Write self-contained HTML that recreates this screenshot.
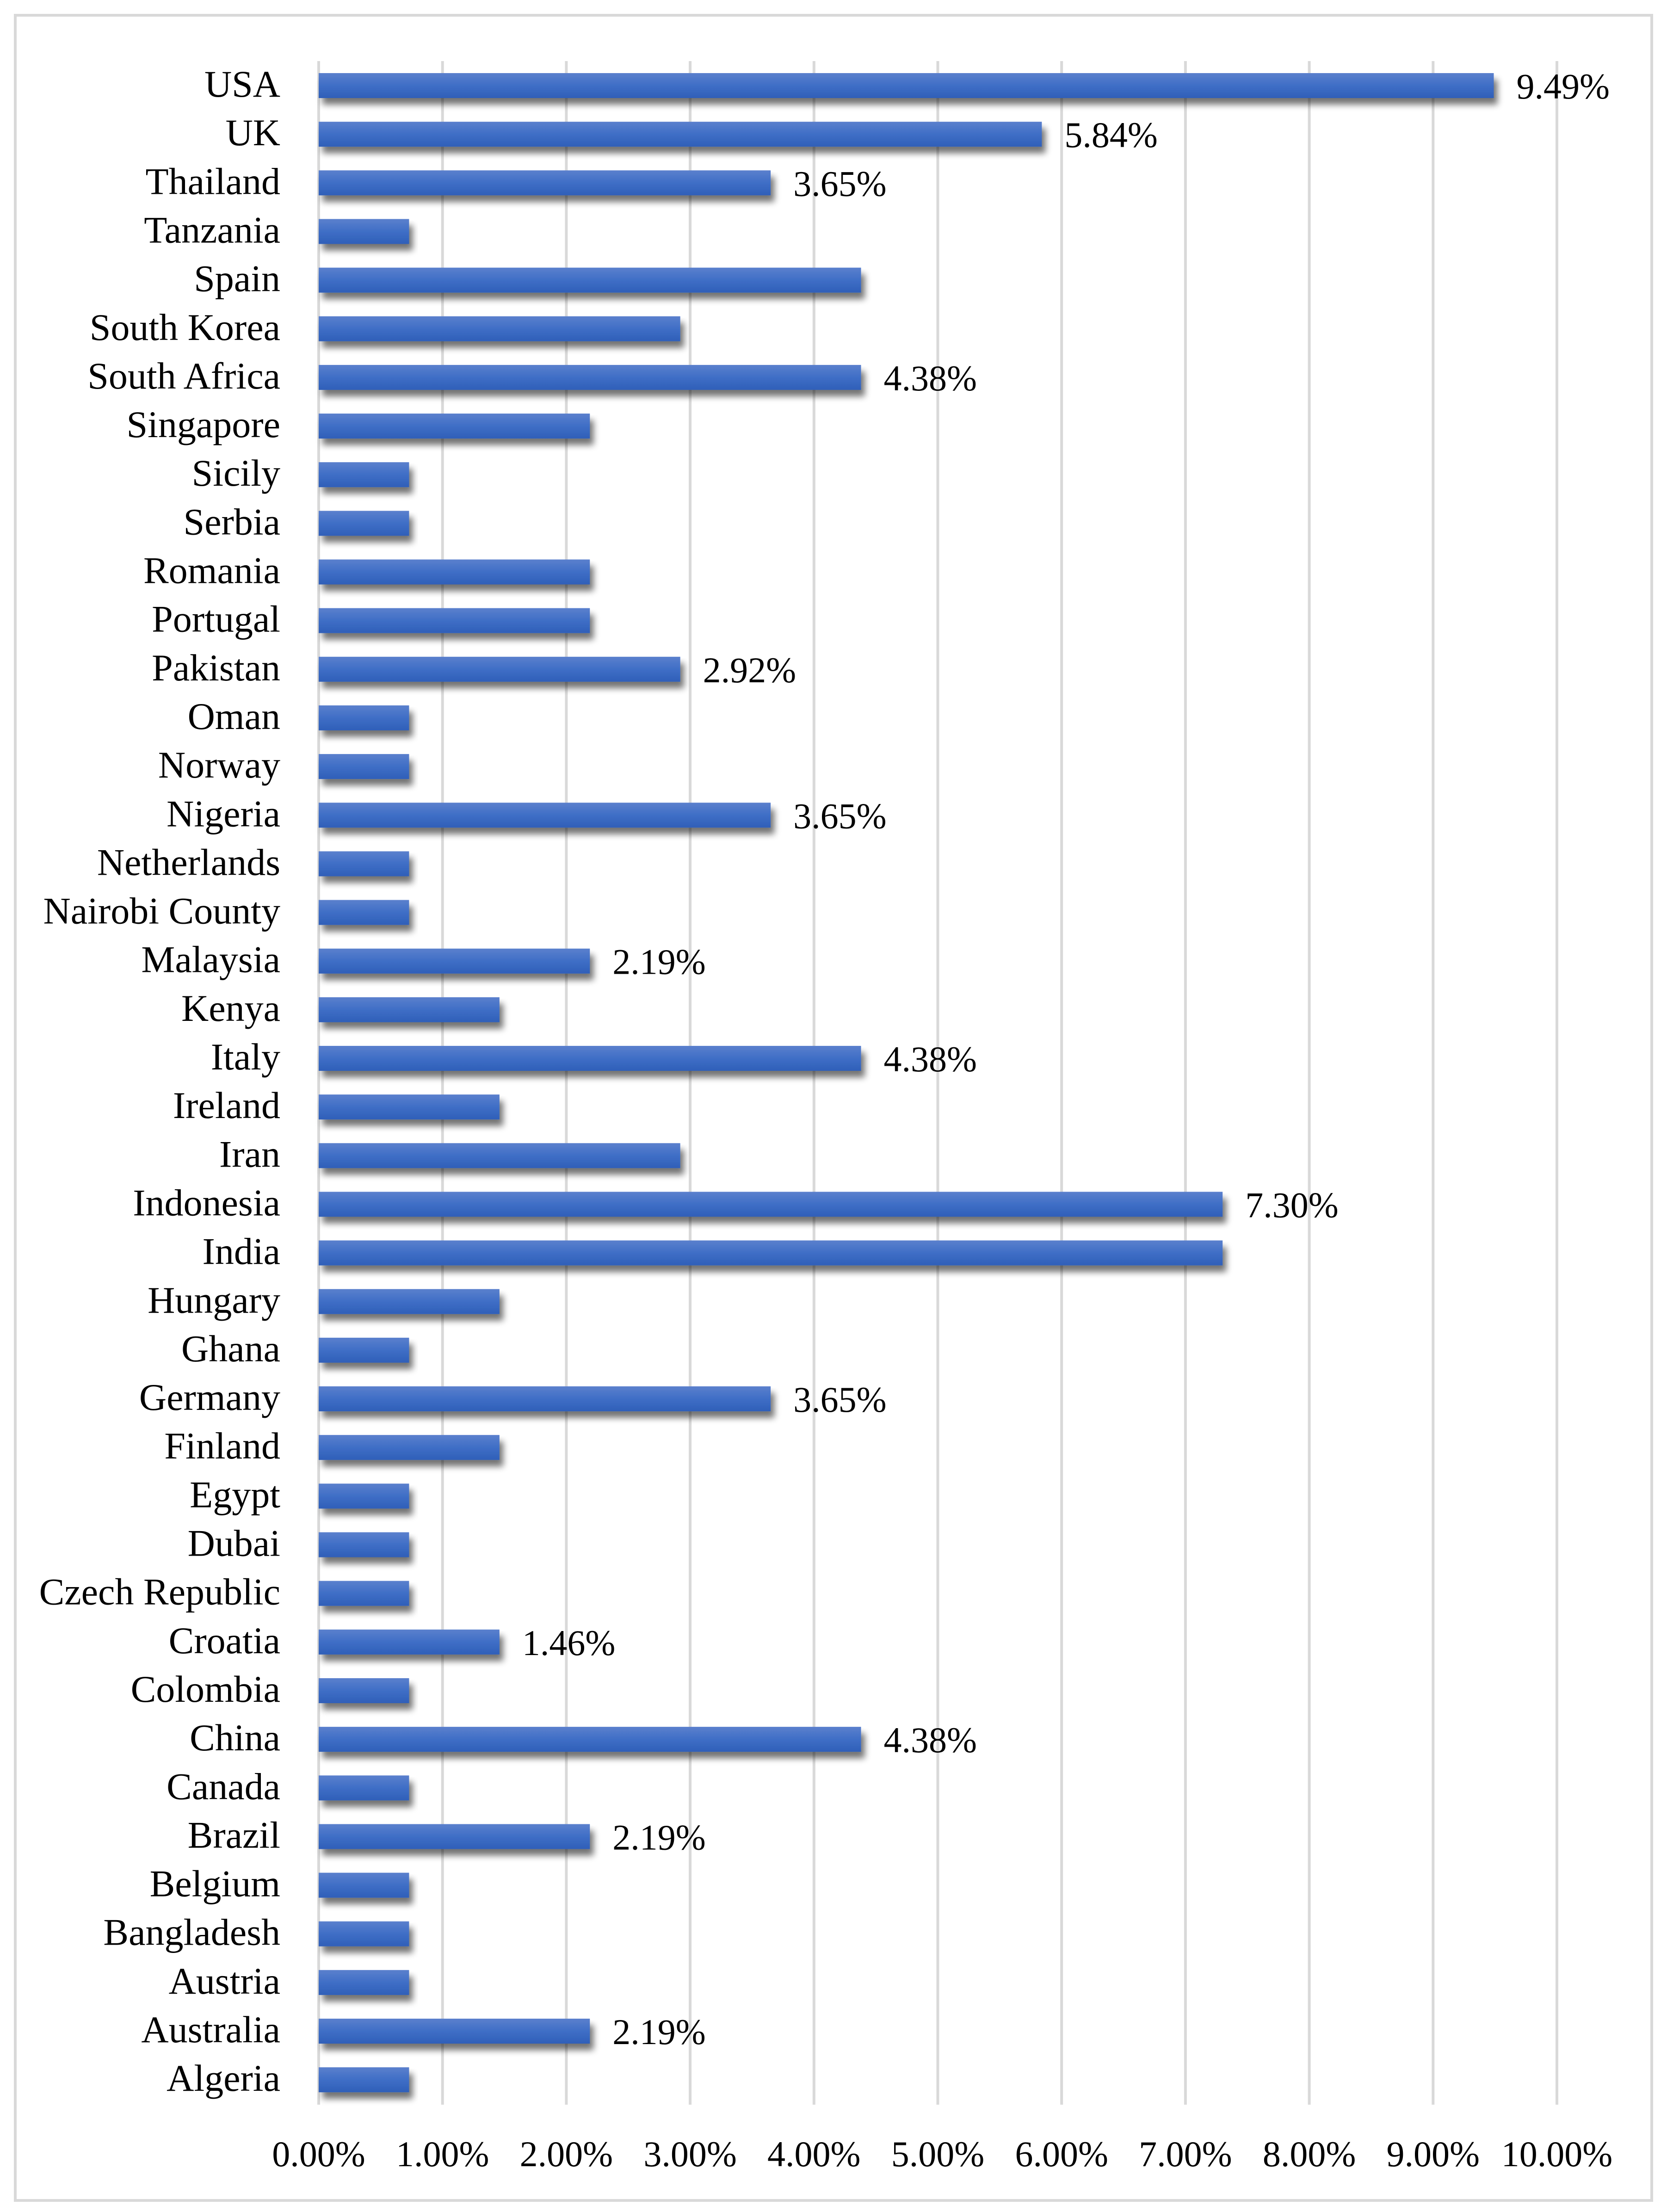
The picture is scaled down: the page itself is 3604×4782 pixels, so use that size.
<!DOCTYPE html>
<html><head><meta charset="utf-8"><style>
html,body{margin:0;padding:0;background:#fff}
svg{display:block}
text{font-family:"Liberation Serif",serif;fill:#000}
</style></head><body>
<svg id="chart" width="3604" height="4782" viewBox="0 0 3604 4782" xmlns="http://www.w3.org/2000/svg">
<defs>
<linearGradient id="barGrad" x1="0" y1="0" x2="0" y2="1">
<stop offset="0" stop-color="#5b80cd"/><stop offset="0.5" stop-color="#3f6ec6"/><stop offset="1" stop-color="#2f5fb8"/>
</linearGradient>
<filter id="shadow" x="-5%" y="-20%" width="115%" height="190%">
<feGaussianBlur in="SourceAlpha" stdDeviation="7"/>
<feOffset dx="8" dy="14" result="b"/>
<feComponentTransfer><feFuncA type="linear" slope="0.55"/></feComponentTransfer>
<feMerge><feMergeNode/><feMergeNode in="SourceGraphic"/></feMerge>
</filter>
</defs>
<rect x="33" y="33" width="3538" height="4724" fill="#fff" stroke="#d9d9d9" stroke-width="6"/>
<g id="grid"></g><g id="bars"></g><g id="labels"></g>
</svg>
<script>
const categories = ["USA","UK","Thailand","Tanzania","Spain","South Korea","South Africa","Singapore","Sicily","Serbia","Romania","Portugal","Pakistan","Oman","Norway","Nigeria","Netherlands","Nairobi County","Malaysia","Kenya","Italy","Ireland","Iran","Indonesia","India","Hungary","Ghana","Germany","Finland","Egypt","Dubai","Czech Republic","Croatia","Colombia","China","Canada","Brazil","Belgium","Bangladesh","Austria","Australia","Algeria"];
const values = [9.49,5.84,3.65,0.73,4.38,2.92,4.38,2.19,0.73,0.73,2.19,2.19,2.92,0.73,0.73,3.65,0.73,0.73,2.19,1.46,4.38,1.46,2.92,7.30,7.30,1.46,0.73,3.65,1.46,0.73,0.73,0.73,1.46,0.73,4.38,0.73,2.19,0.73,0.73,0.73,2.19,0.73];
const labeledCategories = ["USA","UK","Thailand","South Africa","Pakistan","Nigeria","Malaysia","Italy","Indonesia","Germany","Croatia","China","Brazil","Australia"];
const ticks = [0,1,2,3,4,5,6,7,8,9,10];
const tickLabels = ["0.00%","1.00%","2.00%","3.00%","4.00%","5.00%","6.00%","7.00%","8.00%","9.00%","10.00%"];

const NS="http://www.w3.org/2000/svg";
const x0=689, pxPer=267.7, yTop=185, step=105.15, barH=54;
const xs=v=>x0+v*pxPer;
const ys=i=>yTop+i*step;
function mk(tag,attrs,parent){const e=document.createElementNS(NS,tag);for(const k in attrs)e.setAttribute(k,attrs[k]);parent.appendChild(e);return e;}
const grid=document.getElementById('grid'),bars=document.getElementById('bars'),labels=document.getElementById('labels');
ticks.forEach((t,i)=>{
  const l=mk('line',{x1:xs(t),x2:xs(t),y1:132,y2:4550,stroke:'#d9d9d9','stroke-width':6},grid);
  
  
  const tx=mk('text',{x:xs(t),y:4683,'text-anchor':'middle','font-size':78},labels);
  tx.textContent=tickLabels[i];
  
  
});
categories.forEach((c,i)=>{
  const cy=ys(i);
  const r=mk('rect',{x:x0,y:cy-barH/2,width:xs(values[i])-x0,height:barH,fill:'url(#barGrad)',filter:'url(#shadow)'},bars);
  
  
  const t=mk('text',{x:606,y:cy+24,'text-anchor':'end','font-size':82},labels);
  t.textContent=c;
  
  
  if(labeledCategories.includes(c)){
    const v=mk('text',{x:xs(values[i])+49,y:cy+28,'font-size':78},labels);
    v.textContent=values[i].toFixed(2)+'%';
    
    
  }
});
</script>
</body></html>
